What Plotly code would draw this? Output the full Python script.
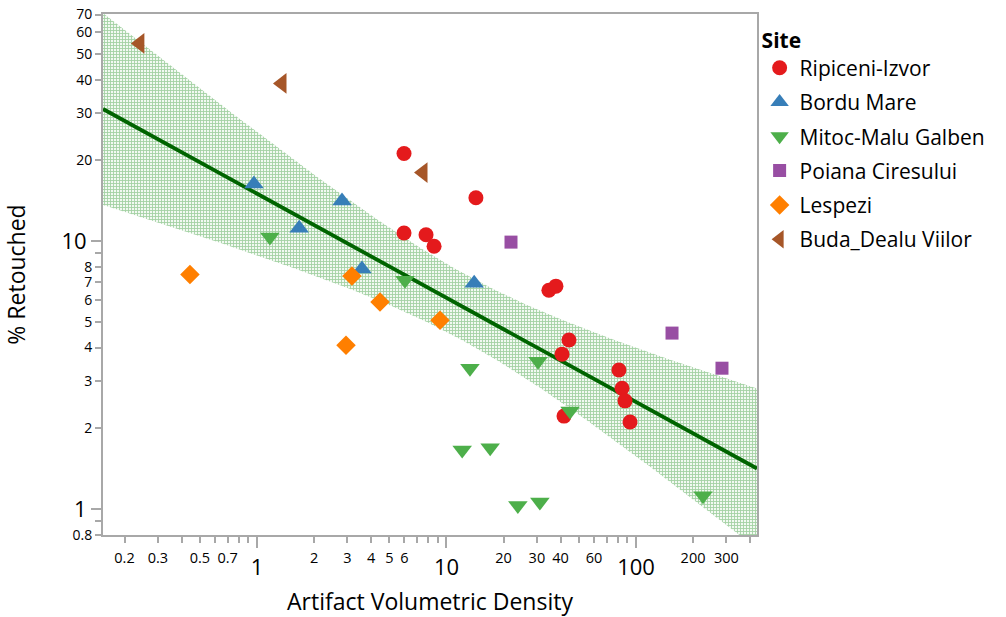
import numpy as np
import plotly.graph_objects as go

# --- data: artifact volumetric density vs. % retouched, by site ---
sites = ["Ripiceni-Izvor", "Bordu Mare", "Mitoc-Malu Galben",
         "Poiana Ciresului", "Lespezi", "Buda_Dealu Viilor"]

ripiceni_x = [5.97, 5.97, 7.8, 8.6, 14.3, 34.7, 37.8, 44.3, 40.7, 81.3, 84.4, 87.5, 93.0, 41.7]
ripiceni_y = [21.2, 10.7, 10.55, 9.55, 14.5, 6.55, 6.78, 4.27, 3.78, 3.30, 2.82, 2.53, 2.11, 2.22]

bordu_x = [0.964, 1.67, 2.81, 3.58, 14.0]
bordu_y = [16.3, 11.15, 14.1, 7.85, 6.95]

mitoc_x = [1.17, 6.04, 13.3, 30.4, 44.9, 12.1, 17.0, 23.8, 31.1, 225.7]
mitoc_y = [10.35, 7.14, 3.35, 3.56, 2.32, 1.66, 1.69, 1.03, 1.06, 1.12]

poiana_x = [21.9, 154.9, 284.3]
poiana_y = [9.9, 4.53, 3.35]

lespezi_x = [0.443, 3.17, 4.46, 9.24, 2.95]
lespezi_y = [7.5, 7.4, 5.92, 5.06, 4.08]

buda_x = [0.241, 1.355, 7.52]
buda_y = [54.6, 38.7, 18.0]

series_x = [ripiceni_x, bordu_x, mitoc_x, poiana_x, lespezi_x, buda_x]
series_y = [ripiceni_y, bordu_y, mitoc_y, poiana_y, lespezi_y, buda_y]

colors = ["#e41a1c", "#377eb8", "#4daf4a", "#984ea3", "#ff7f00", "#a65628"]
symbols = ["circle", "triangle-up", "triangle-down", "square", "diamond", "triangle-left"]
sizes = [15, 17, 17, 13, 15, 18]

# axis ticks (small labelled / unlabelled ticks, plus the decade ticks)
x_minor_ticks = [0.2, 0.3, 0.4, 0.5, 0.6, 0.7, 0.8, 0.9, 2, 3, 4, 5, 6, 7, 8, 9,
                 20, 30, 40, 50, 60, 70, 80, 90, 200, 300, 400]
x_minor_labels = ["0.2", "0.3", "", "0.5", "", "0.7", "", "",
                  "2", "3", "4", "5", "6", "", "", "",
                  "20", "30", "40", "", "60", "", "", "", "200", "300", ""]
x_major_ticks = [1, 10, 100]
x_major_labels = ["1", "10", "100"]

y_minor_ticks = [0.8, 0.9, 2, 3, 4, 5, 6, 7, 8, 9, 20, 30, 40, 50, 60, 70]
y_minor_labels = ["0.8", "", "2", "3", "4", "5", "6", "7", "8", "", "20", "30", "40", "50", "60", "70"]
y_major_ticks = [1, 10]
y_major_labels = ["1", "10"]

x_range = [np.log10(0.154), np.log10(435)]
y_range = [np.log10(0.799), np.log10(70.3)]

# --- least-squares fit on log-log scale with 99% confidence band for the mean ---
all_x = np.log10(np.concatenate([np.array(v, float) for v in series_x]))
all_y = np.log10(np.concatenate([np.array(v, float) for v in series_y]))
n = len(all_x)
slope, intercept = np.polyfit(all_x, all_y, 1)
resid = all_y - (slope * all_x + intercept)
s = np.sqrt(np.sum(resid ** 2) / (n - 2))
xbar = all_x.mean()
sxx = np.sum((all_x - xbar) ** 2)
t_crit = 2.712  # t(0.995, df=38)

grid = np.linspace(x_range[0], x_range[1], 200)
fit = slope * grid + intercept
half = t_crit * s * np.sqrt(1.0 / n + (grid - xbar) ** 2 / sxx)
gx = 10 ** grid

fig = go.Figure()

fig.add_trace(go.Scatter(
    x=np.concatenate([gx, gx[::-1]]),
    y=np.concatenate([10 ** (fit + half), (10 ** (fit - half))[::-1]]),
    fill="toself", mode="lines", line=dict(width=0),
    fillcolor="rgba(255,255,255,0)",
    fillpattern=dict(shape="+", fgcolor="#55a855", bgcolor="#f2f9f2", size=3, solidity=0.5),
    showlegend=False, hoverinfo="skip"))

fig.add_trace(go.Scatter(
    x=gx, y=10 ** fit, mode="lines",
    line=dict(color="#006400", width=3.8),
    showlegend=False, hoverinfo="skip"))

for name, xs, ys, c, sym, sz in zip(sites, series_x, series_y, colors, symbols, sizes):
    fig.add_trace(go.Scatter(
        x=xs, y=ys, mode="markers", name=name, legendgroup=name,
        marker=dict(color=c, symbol=sym, size=sz, line=dict(width=0))))

font_family = "Open Sans, Noto Sans, sans-serif"
axis_gray = "#a8a8a8"

fig.update_layout(
    width=1006, height=617,
    margin=dict(l=103, r=249, t=14, b=82, autoexpand=False),
    paper_bgcolor="white", plot_bgcolor="white",
    font=dict(family=font_family, color="black"),
    legend=dict(
        title=dict(text="<b>Site</b>", font=dict(size=21, color="black")),
        font=dict(size=21, color="black"),
        x=1.004, xanchor="left", y=0.988, yanchor="top",
        itemsizing="trace", tracegroupgap=4,
        bgcolor="rgba(0,0,0,0)"),
    xaxis=dict(
        type="log", range=x_range, showgrid=False, zeroline=False,
        showline=True, linecolor=axis_gray, linewidth=2, mirror=True,
        tickmode="array", tickvals=x_minor_ticks, ticktext=x_minor_labels,
        ticks="outside", ticklen=6, tickwidth=1.5, tickcolor=axis_gray,
        tickfont=dict(size=14.5, color="black"), ticklabelstandoff=3,
        title=dict(text="Artifact Volumetric Density", font=dict(size=23, color="black"), standoff=27),
    ),
    xaxis2=dict(
        type="log", range=x_range, overlaying="x", anchor="y", side="bottom",
        showgrid=False, zeroline=False, showline=False,
        tickmode="array", tickvals=x_major_ticks, ticktext=x_major_labels,
        ticks="outside", ticklen=12, tickwidth=1.5, tickcolor=axis_gray,
        tickfont=dict(size=22, color="black"), ticklabelstandoff=1,
    ),
    yaxis=dict(
        type="log", range=y_range, showgrid=False, zeroline=False,
        showline=True, linecolor=axis_gray, linewidth=2, mirror=True,
        tickmode="array", tickvals=y_minor_ticks, ticktext=y_minor_labels,
        ticks="outside", ticklen=6, tickwidth=1.5, tickcolor=axis_gray,
        tickfont=dict(size=14, color="black"),
        title=dict(text="% Retouched", font=dict(size=23, color="black"), standoff=43),
    ),
    yaxis2=dict(
        type="log", range=y_range, overlaying="y", anchor="x", side="left",
        showgrid=False, zeroline=False, showline=False,
        tickmode="array", tickvals=y_major_ticks, ticktext=y_major_labels,
        ticks="outside", ticklen=11, tickwidth=1.5, tickcolor=axis_gray,
        tickfont=dict(size=22, color="black"),
    ),
)

# invisible trace so the overlay axes are rendered
fig.add_trace(go.Scatter(x=[1], y=[1], xaxis="x2", yaxis="y2", mode="markers",
                         marker=dict(opacity=0), showlegend=False, hoverinfo="skip"))

fig.write_html("out.html")
